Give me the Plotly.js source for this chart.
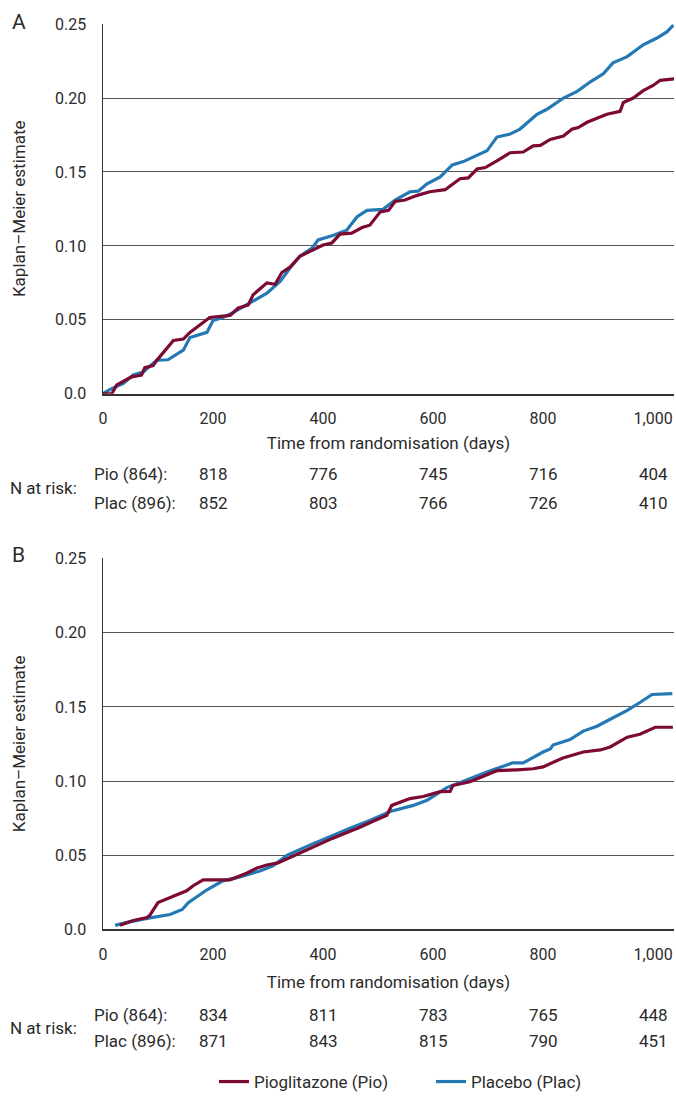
<!DOCTYPE html>
<html>
<head>
<meta charset="utf-8">
<script src="https://cdn.plot.ly/plotly-3.0.1.min.js"></script>
<style>html,body{margin:0;padding:0;background:#fff;}#chart{width:676px;height:1100px;}</style>
</head>
<body>
<div id="chart"></div>
<script>
// ---- Data ----
// Panel A
var aPioDays = [0,16,25,52,70,76,91,100,128,146,158,194,231,246,264,273,298,313,325,340,358,380,400,416,431,452,471,485,504,519,531,549,570,594,622,649,664,680,695,716,740,764,782,795,813,837,853,864,880,916,940,946,964,982,1000,1013,1040];
var aPioKM   = [0,0,0.006,0.0114,0.0127,0.0176,0.019,0.0236,0.036,0.037,0.0415,0.0516,0.053,0.058,0.060,0.067,0.075,0.074,0.082,0.0856,0.093,0.097,0.1006,0.102,0.108,0.1086,0.1124,0.114,0.123,0.124,0.130,0.131,0.134,0.1366,0.138,0.1454,0.146,0.152,0.153,0.1575,0.163,0.1635,0.1676,0.168,0.172,0.1743,0.179,0.180,0.1836,0.189,0.191,0.197,0.200,0.205,0.2085,0.212,0.213];
var aPlacDays = [0,13,37,55,73,98,118,131,146,158,189,200,218,237,267,298,322,340,358,380,391,418,443,462,480,509,531,558,573,589,613,635,655,680,698,716,740,758,789,807,837,862,886,910,927,953,982,1007,1025,1037];
var aPlacKM   = [0,0.003,0.007,0.0127,0.0147,0.0228,0.023,0.026,0.0295,0.038,0.0415,0.0495,0.0516,0.055,0.0617,0.068,0.076,0.085,0.093,0.0985,0.104,0.107,0.1106,0.1197,0.124,0.1247,0.131,0.1366,0.137,0.142,0.1466,0.1548,0.157,0.161,0.1643,0.1736,0.1756,0.179,0.189,0.1924,0.200,0.2045,0.211,0.2165,0.2238,0.228,0.236,0.2406,0.2447,0.2493];
// Panel B
var bPioDays = [31,55,80,85,100,113,128,152,164,182,231,262,280,298,318,358,382,418,449,462,491,516,525,558,582,613,631,636,667,680,716,753,782,800,836,873,904,922,953,976,1004,1036];
var bPioKM   = [0.0027,0.006,0.008,0.0094,0.018,0.020,0.0227,0.026,0.0294,0.0334,0.0334,0.038,0.0414,0.0434,0.0448,0.0515,0.056,0.0615,0.0662,0.068,0.0729,0.0769,0.0836,0.0882,0.0896,0.0929,0.093,0.097,0.0996,0.1016,0.107,0.1076,0.1083,0.1096,0.1156,0.1196,0.121,0.123,0.1296,0.1316,0.1363,0.1363];
var bPlacDays = [22,44,80,122,144,155,189,218,249,285,309,335,376,413,449,485,522,564,589,625,662,704,745,764,800,813,818,849,873,898,922,953,976,998,1035];
var bPlacKM   = [0.0027,0.0047,0.0074,0.010,0.0134,0.018,0.0267,0.0327,0.0354,0.0394,0.0428,0.050,0.0568,0.0628,0.0682,0.0735,0.0795,0.0836,0.087,0.0956,0.101,0.107,0.1123,0.1123,0.1196,0.1216,0.1243,0.128,0.1337,0.137,0.1417,0.1477,0.153,0.1584,0.159];

// Axis ticks
var xTickVals = [0,200,400,600,800,1000];
var xTickText = ['0','200','400','600','800','1,000'];
var yTickVals = [0,0.05,0.10,0.15,0.20,0.25];
var yTickText = ['0.0','0.05','0.10','0.15','0.20','0.25'];

// Numbers at risk
var riskDays = [200,400,600,800,1000];
var aRiskPio  = [818,776,745,716,404];
var aRiskPlac = [852,803,766,726,410];
var bRiskPio  = [834,811,783,765,448];
var bRiskPlac = [871,843,815,790,451];
var rowLabelPio = 'Pio (864):';
var rowLabelPlac = 'Plac (896):';

var seriesNames = ['Pioglitazone (Pio)','Placebo (Plac)'];
var colPio = '#7c0a33';
var colPlac = '#2479b5';

// ---- Build ----
var FONT = 'Roboto, Arial, sans-serif';
var TXT = '#2b2b2b';
var W = 676, H = 1100;
function py(p){ return (H - p) / H; }
function px(p){ return p / W; }

var tPioA  = {x:aPioDays, y:aPioKM, xaxis:'x', yaxis:'y', mode:'lines', name:seriesNames[0], legendgroup:'pio', legendrank:1, showlegend:true, line:{color:colPio,width:3.2}};
var tPlacA = {x:aPlacDays, y:aPlacKM, xaxis:'x', yaxis:'y', mode:'lines', name:seriesNames[1], legendgroup:'plac', legendrank:2, showlegend:true, line:{color:colPlac,width:3.2}};
var tPioB  = {x:bPioDays, y:bPioKM, xaxis:'x2', yaxis:'y2', mode:'lines', name:seriesNames[0], legendgroup:'pio', showlegend:false, line:{color:colPio,width:3.2}};
var tPlacB = {x:bPlacDays, y:bPlacKM, xaxis:'x2', yaxis:'y2', mode:'lines', name:seriesNames[1], legendgroup:'plac', showlegend:false, line:{color:colPlac,width:3.2}};
var traces = [tPlacA, tPioA, tPlacB, tPioB];

function xAx(anchor, tStandoff){
  return {domain:[px(103), px(674)], range:[0,1038], anchor:anchor,
    tickvals:xTickVals, ticktext:xTickText, showgrid:false, zeroline:false,
    showline:true, linecolor:'#333', linewidth:2, ticks:'', ticklabelstandoff:9,
    tickfont:{family:FONT,size:16,color:TXT},
    title:{text:'Time from randomisation (days)', font:{family:FONT,size:17,color:TXT}, standoff:tStandoff}};
}
function yAx(anchor, top, bottom){
  return {domain:[py(bottom), py(top)], range:[0,0.2502], anchor:anchor,
    tickvals:yTickVals, ticktext:yTickText, showgrid:true, gridcolor:'#555', gridwidth:1,
    zeroline:false, showline:true, linecolor:'#333', linewidth:1.5, ticks:'', ticklabelstandoff:12,
    tickfont:{family:FONT,size:16,color:TXT},
    title:{text:'Kaplan\u2013Meier estimate', font:{family:FONT,size:17,color:TXT}, standoff:25}};
}

var ann = [];
function addText(t, x, xref, y, anchor, size){
  ann.push({text:t, x:x, xref:xref, y:y, yref:'paper', xanchor:anchor, yanchor:'middle',
    showarrow:false, font:{family:FONT, size:size||17, color:TXT}});
}
addText('A', px(10), 'paper', py(22), 'left', 21);
addText('B', px(10), 'paper', py(560), 'left', 21);
function riskTable(xref, yPio, yPlac, pio, plac){
  addText('N at risk:', px(8), 'paper', py((yPio+yPlac)/2), 'left');
  addText(rowLabelPio, px(92), 'paper', py(yPio), 'left');
  addText(rowLabelPlac, px(92), 'paper', py(yPlac), 'left');
  for (var i=0;i<riskDays.length;i++){
    addText(String(pio[i]), riskDays[i], xref, py(yPio), 'center');
    addText(String(plac[i]), riskDays[i], xref, py(yPlac), 'center');
  }
}
riskTable('x', 478, 507, aRiskPio, aRiskPlac);
riskTable('x2', 1023, 1050, bRiskPio, bRiskPlac);

var layout = {
  width:W, height:H, margin:{l:0,r:0,t:0,b:0}, paper_bgcolor:'#fff', plot_bgcolor:'#fff',
  font:{family:FONT, color:TXT},
  xaxis:xAx('y', 10), yaxis:yAx('x', 24, 397),
  xaxis2:xAx('y2', 14), yaxis2:yAx('x2', 563, 937),
  showlegend:true,
  legend:{orientation:'h', x:px(214), xanchor:'left', y:py(1091), yanchor:'middle', traceorder:'normal',
    font:{family:FONT,size:17,color:TXT}, bgcolor:'rgba(0,0,0,0)', entrywidth:172, entrywidthmode:'pixels'},
  annotations:ann
};
Plotly.newPlot('chart', traces, layout, {staticPlot:true, displayModeBar:false});
</script>
</body>
</html>
